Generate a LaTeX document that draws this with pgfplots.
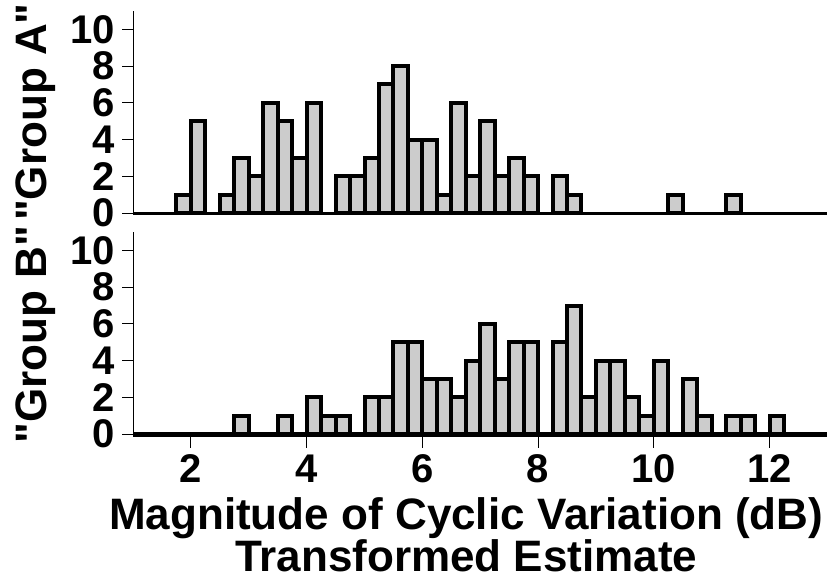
\documentclass[border=0pt]{standalone}
\usepackage{pgfplots}
\pgfplotsset{compat=1.18}
\usepackage{fontspec}
\setmainfont{Liberation Sans}
\pgfplotstableread{
x y
1.875 1
2.125 5
2.625 1
2.875 3
3.125 2
3.375 6
3.625 5
3.875 3
4.125 6
4.625 2
4.875 2
5.125 3
5.375 7
5.625 8
5.875 4
6.125 4
6.375 1
6.625 6
6.875 2
7.125 5
7.375 2
7.625 3
7.875 2
8.375 2
8.625 1
10.375 1
11.375 1
}\groupA
\pgfplotstableread{
x y
2.875 1
3.625 1
4.125 2
4.375 1
4.625 1
5.125 2
5.375 2
5.625 5
5.875 5
6.125 3
6.375 3
6.625 2
6.875 4
7.125 6
7.375 3
7.625 5
7.875 5
8.375 5
8.625 7
8.875 2
9.125 4
9.375 4
9.625 2
9.875 1
10.125 4
10.625 3
10.875 1
11.375 1
11.625 1
12.125 1
}\groupB
\pgfplotsset{
  hist/.style={
    scale only axis, width=347pt, xmin=1, xmax=13, ymax=11,
    axis y line*=left, axis line style={-, line width=0.5pt, black},
    ytick={0,2,...,10}, tick align=outside, major tick length=5.5pt,
    tick style={line width=0.5pt, black},
    ticklabel style={font=\bfseries\fontsize{20}{20}\selectfont},
    /pgf/number format/assume math mode=true,
    clip=false,
    ylabel style={at={(axis description cs:-0.14,0.5)}, anchor=center, inner sep=0pt,
      font=\bfseries\fontsize{22}{22}\selectfont},
  },
  bars/.style={ybar, bar width=0.25, bar shift=0pt, fill=black!20, draw=black, line width=2pt},
  base/.style={no marks, line width=1.6pt, black},
}
\begin{document}
\begin{tikzpicture}
\begin{axis}[name=top, hist, height=101pt, ymin=0, axis x line=none,
  ylabel={\textquotedbl Group A\textquotedbl}]
\addplot[bars] table[x=x,y=y]{\groupA};
\addplot[base] coordinates {(1,0) (13,0)};
\end{axis}
\begin{axis}[name=bot, at={(top.south west)}, anchor=north west, yshift=-9.5pt,
  hist, height=102.3pt, ymin=-0.15, axis x line*=bottom,
  xtick={2,4,...,12},
  ylabel={\textquotedbl Group B\textquotedbl},
  xlabel={Magnitude of Cyclic Variation (dB)\\Transformed Estimate},
  xlabel style={align=center, inner sep=0pt, yshift=-3.5pt,
    font=\bfseries\fontsize{22}{21}\selectfont, xshift=-7pt}]
\addplot[bars] table[x=x,y=y]{\groupB};
\addplot[base] coordinates {(1,0) (13,0)};
\end{axis}
\path ([shift={(-66.5pt,5.5pt)}]top.north west) rectangle ([shift={(5.3pt,-70.6pt)}]bot.south east);
\end{tikzpicture}
\end{document}
